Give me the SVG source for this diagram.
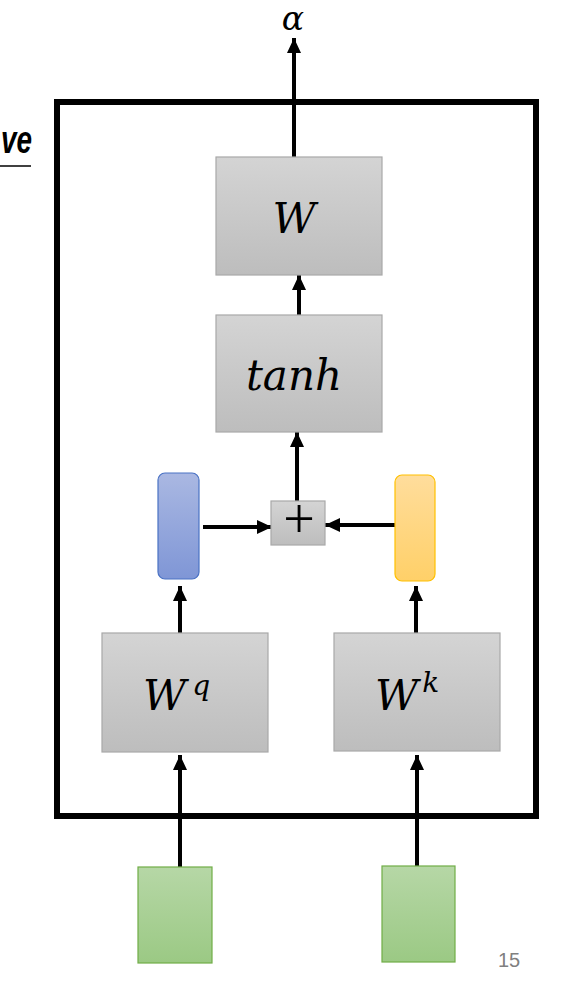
<svg xmlns="http://www.w3.org/2000/svg" width="573" height="985" viewBox="0 0 573 985">
  <defs>
    <linearGradient id="gGray" x1="0" y1="0" x2="0" y2="1">
      <stop offset="0" stop-color="#d4d4d4"/>
      <stop offset="1" stop-color="#bdbdbd"/>
    </linearGradient>
    <linearGradient id="gBlue" x1="0" y1="0" x2="0" y2="1">
      <stop offset="0" stop-color="#aab8e2"/>
      <stop offset="1" stop-color="#7f96d6"/>
    </linearGradient>
    <linearGradient id="gOrange" x1="0" y1="0" x2="0" y2="1">
      <stop offset="0" stop-color="#ffdd9c"/>
      <stop offset="1" stop-color="#ffd068"/>
    </linearGradient>
    <linearGradient id="gGreen" x1="0" y1="0" x2="0" y2="1">
      <stop offset="0" stop-color="#b6d7a6"/>
      <stop offset="1" stop-color="#9bc984"/>
    </linearGradient>
    <marker id="arr" markerUnits="userSpaceOnUse" markerWidth="16" markerHeight="16" viewBox="0 0 16 16" refX="15" refY="8" orient="auto">
      <path d="M0,1 L15,8 L0,15 Z" fill="#000"/>
    </marker>
  </defs>
  <style>
    .box { fill: url(#gGray); stroke: #a8a8a8; stroke-width: 1.2; }
    .math { font-family: "DejaVu Serif", "Liberation Serif", serif; font-style: italic; fill: #000; }
    .conn { stroke: #000; stroke-width: 4; fill: none; marker-end: url(#arr); }
  </style>

  <!-- partial title text -->
  <g id="title">
    <text x="1" y="153" font-family="Liberation Sans, Arial, sans-serif" font-weight="bold" font-style="italic" font-size="38" textLength="31" lengthAdjust="spacingAndGlyphs" fill="#000">ve</text>
    <line x1="0" y1="166" x2="31" y2="166" stroke="#000" stroke-width="1.5"/>
  </g>

  <!-- outer frame -->
  <g id="frame">
    <rect x="57" y="102" width="479" height="714" fill="none" stroke="#000" stroke-width="6"/>
  </g>

  <g id="connectors">
    <line class="conn" x1="294" y1="157" x2="294" y2="38"/>
    <line class="conn" x1="299" y1="318" x2="299" y2="275"/>
    <line class="conn" x1="297" y1="501" x2="297" y2="432"/>
    <line class="conn" x1="203" y1="527" x2="272" y2="527"/>
    <line class="conn" x1="395" y1="525" x2="325" y2="525"/>
    <line class="conn" x1="180" y1="633" x2="180" y2="586"/>
    <line class="conn" x1="416" y1="633" x2="416" y2="586"/>
    <line class="conn" x1="180" y1="867" x2="180" y2="755"/>
    <line class="conn" x1="417" y1="866" x2="417" y2="755"/>
  </g>

  <g id="alpha">
    <text class="math" x="293" y="30" font-size="33" text-anchor="middle">α</text>
  </g>

  <g id="W">
    <rect class="box" x="216" y="157" width="166" height="118"/>
    <text class="math" x="294" y="233" font-size="42" text-anchor="middle">W</text>
  </g>

  <g id="tanh">
    <rect class="box" x="216" y="315" width="166" height="117"/>
    <text class="math" x="294" y="390" font-size="42" text-anchor="middle">tanh</text>
  </g>

  <g id="plus">
    <rect class="box" x="271" y="501" width="54" height="44"/>
    <text x="299" y="538" font-family="Liberation Serif, serif" font-size="56" text-anchor="middle" fill="#000">+</text>
  </g>

  <g id="q-vector">
    <rect x="158" y="473" width="41" height="106" rx="7" ry="7" fill="url(#gBlue)" stroke="#4a72c4" stroke-width="1.2"/>
  </g>

  <g id="k-vector">
    <rect x="395" y="475" width="40" height="106" rx="7" ry="7" fill="url(#gOrange)" stroke="#ffc000" stroke-width="1.2"/>
  </g>

  <g id="Wq">
    <rect class="box" x="102" y="633" width="166" height="119"/>
    <text class="math" x="143" y="710" font-size="42">W<tspan font-size="28" dy="-15" dx="6">q</tspan></text>
  </g>

  <g id="Wk">
    <rect class="box" x="334" y="633" width="166" height="118"/>
    <text class="math" x="375" y="710" font-size="42">W<tspan font-size="28" dy="-18" dx="4">k</tspan></text>
  </g>

  <g id="input-q">
    <rect x="138" y="867" width="74" height="96" fill="url(#gGreen)" stroke="#70ad47" stroke-width="1.2"/>
  </g>

  <g id="input-k">
    <rect x="382" y="866" width="73" height="96" fill="url(#gGreen)" stroke="#70ad47" stroke-width="1.2"/>
  </g>

  <g id="page-number">
    <text x="509" y="967" font-family="Liberation Sans, Arial, sans-serif" font-size="20" text-anchor="middle" fill="#808080">15</text>
  </g>
</svg>
